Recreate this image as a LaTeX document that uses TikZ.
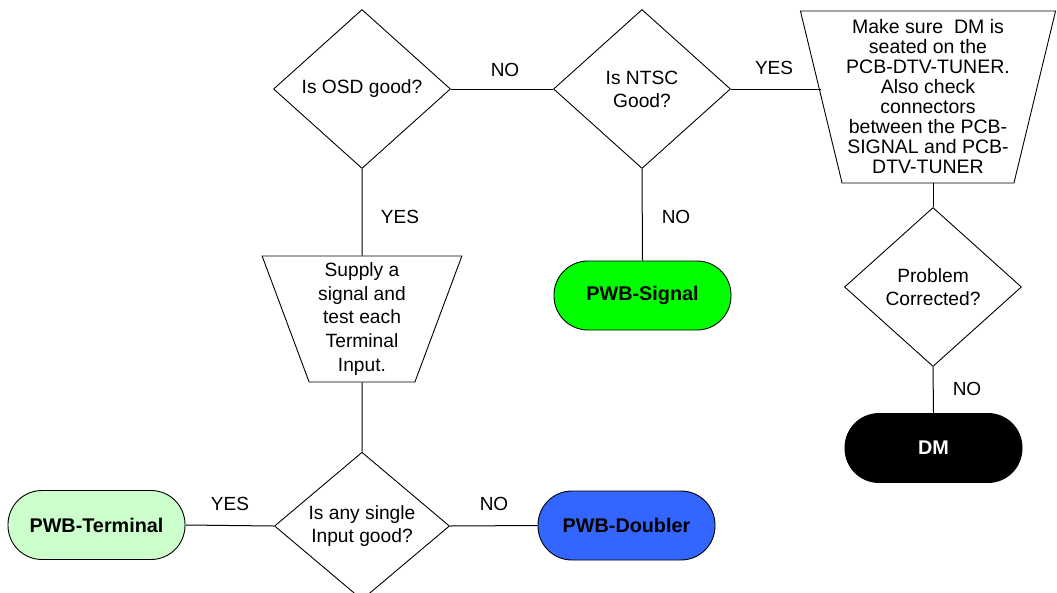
\documentclass[tikz,border=0pt]{standalone}
\usepackage{fontspec}
\setmainfont{Liberation Sans}
\usetikzlibrary{shapes.geometric}
\begin{document}
\begin{tikzpicture}[x=1pt,y=-1pt,
  dec/.style={diamond, draw=black, line width=0.9pt, inner sep=0pt, minimum width=177pt, minimum height=159pt, align=center, font=\fontsize{19.2}{23}\selectfont},
  term/.style={draw=black, line width=0.9pt, rounded corners=34pt, minimum width=177pt, minimum height=69pt, inner sep=0pt, font=\bfseries\fontsize{19.8}{22}\selectfont},
  trap/.style={trapezium, trapezium stretches=true, shape border rotate=180, draw=black, line width=0.9pt, inner sep=0pt, align=center},
  lbl/.style={font=\fontsize{19}{22}\selectfont},
  conn/.style={draw=black, line width=1pt}
]
\useasboundingbox (0,0) rectangle (1057,592);
\definecolor{lgreen}{HTML}{CCFFCC}
\definecolor{bgreen}{HTML}{00FF00}
\definecolor{dblue}{HTML}{3366FF}

\node[dec] (osd) at (362,89) {Is OSD good?};
\node[dec] (ntsc) at (642,89) {Is NTSC\\Good?};
\node[trap, minimum width=256pt, minimum height=172pt, trapezium left angle=75.6, trapezium right angle=75.6,
      font=\fontsize{19.5}{20}\selectfont] (mk) at (928,97)
  {Make sure\ \ DM is\\seated on the\\PCB-DTV-TUNER.\\Also check\\connectors\\between the PCB-\\SIGNAL and PCB-\\DTV-TUNER};
\node[dec] (pc) at (933,287) {Problem\\Corrected?};
\node[term, fill=black, text=white] (dm) at (933.5,448) {DM};
\node[term, fill=bgreen] (sig) at (642.5,295.5) {PWB-Signal};
\node[trap, minimum width=200pt, minimum height=126pt, trapezium left angle=71, trapezium right angle=71,
      font=\fontsize{19.2}{23.75}\selectfont] (sup) at (362,319)
  {Supply a\\signal and\\test each\\Terminal\\Input.};
\node[dec, minimum width=175pt, minimum height=138pt] (any) at (362,526) {Is any single\\Input good?};
\node[term, fill=lgreen] (pt) at (96.5,525) {PWB-Terminal};
\node[term, fill=dblue] (pd) at (626.5,525.5) {PWB-Doubler};

\path[conn] (osd.east) -- (ntsc.west);
\path[conn] (ntsc.east) -- (ntsc.east -| mk.west);
\path[conn] (mk.south -| pc.north) -- (pc.north);
\path[conn] (pc.south) -- (dm.north);
\path[conn] (ntsc.south) -- (sig.north);
\path[conn] (osd.south) -- (sup.north);
\path[conn] (sup.south) -- (any.north);
\path[conn] (any.west) -- (pt.east);
\path[conn] (any.east) -- (pd.west);

\node[lbl] (l1) at (505,70) {NO};
\node[lbl] (l2) at (774,68) {YES};
\node[lbl] (l3) at (400,217) {YES};
\node[lbl] (l4) at (676,217) {NO};
\node[lbl] (l5) at (967,389) {NO};
\node[lbl] (l6) at (230,504) {YES};
\node[lbl] (l7) at (494,504) {NO};
\end{tikzpicture}
\end{document}
